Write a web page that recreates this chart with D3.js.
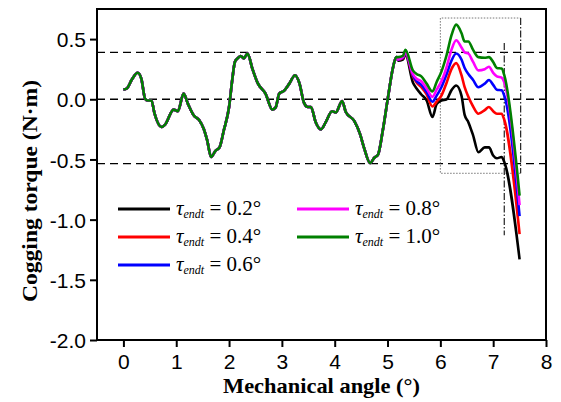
<!DOCTYPE html>
<html><head><meta charset="utf-8">
<script src="https://cdn.jsdelivr.net/npm/d3@7"></script>
<style>body{margin:0;background:#fff}</style>
</head><body>
<svg id="c" width="561" height="402"></svg>
<script>
// common part of all curves (identical for every tau_endt)
const commonX = [0,0.065,0.16,0.27,0.34,0.41,0.46,0.53,0.59,0.72,0.79,0.95,1.03,1.14,1.22,1.33,1.43,1.52,1.585,1.66,1.74,1.82,1.90,2.0,2.06,2.11,2.16,2.22,2.28,2.35,2.44,2.54,2.69,2.82,2.88,2.95,3.04,3.14,3.25,3.33,3.42,3.49,3.55,3.64,3.74,3.83,3.95,4.02,4.14,4.21,4.37,4.48,4.56,4.67,4.75,4.82,4.91,5.01,5.10,5.165];
const commonY = [0.08,0.09,0.164,0.22,0.17,0.005,-0.01,-0.01,-0.12,-0.23,-0.21,-0.086,-0.1,0.047,-0.036,-0.133,-0.17,-0.245,-0.34,-0.48,-0.43,-0.40,-0.26,-0.064,0.16,0.31,0.34,0.36,0.34,0.38,0.256,0.136,0.047,-0.086,-0.07,0.047,0.07,0.13,0.2,0.136,-0.03,-0.064,-0.064,-0.19,-0.25,-0.19,-0.1,-0.11,-0.014,-0.106,-0.18,-0.29,-0.41,-0.53,-0.486,-0.46,-0.26,0.02,0.256,0.35];
// diverging part
const tailX = [5.20,5.29,5.34,5.48,5.55,5.64,5.74,5.85,5.93,6.02,6.12,6.21,6.30,6.40,6.46,6.53,6.62,6.72,6.84,6.92,7.00,7.07,7.16,7.21,7.50];
const tail02 = [0.32,0.33,0.37,0.14,0.09,0.04,-0.01,-0.147,-0.04,-0.01,0.00,0.075,0.115,0.03,-0.13,-0.19,-0.30,-0.44,-0.40,-0.40,-0.467,-0.49,-0.48,-0.52,-1.33];
const tail04 = [0.33,0.34,0.38,0.19,0.14,0.10,0.04,-0.06,-0.02,0.03,0.14,0.25,0.30,0.20,0.10,0.02,-0.06,-0.12,-0.09,-0.064,-0.10,-0.12,-0.12,-0.17,-1.12];
const tail06 = [0.33,0.345,0.385,0.20,0.15,0.12,0.06,-0.02,0.03,0.10,0.21,0.32,0.38,0.33,0.26,0.21,0.16,0.10,0.13,0.16,0.12,0.08,0.075,0.03,-0.97];
const tail08 = [0.33,0.35,0.39,0.21,0.17,0.15,0.09,0.02,0.08,0.15,0.27,0.41,0.49,0.43,0.39,0.38,0.31,0.24,0.25,0.27,0.22,0.19,0.18,0.14,-0.88];
const tail10 = [0.35,0.36,0.41,0.24,0.21,0.19,0.13,0.065,0.144,0.23,0.37,0.53,0.62,0.55,0.48,0.48,0.41,0.35,0.345,0.35,0.31,0.26,0.255,0.20,-0.80];
const seriesNames = ["0.2°","0.4°","0.6°","0.8°","1.0°"];
const seriesColors = ["#000000","#ff0000","#0000ff","#ff00ff","#008000"];
const tails = [tail02,tail04,tail06,tail08,tail10];
const xTicks = [0,1,2,3,4,5,6,7,8];
const yTicks = [-2.0,-1.5,-1.0,-0.5,0.0,0.5];
const refLines = [0.39,0.0,-0.535];
const boxX = [6.0,7.52], boxY = [-0.615,0.675];
const markX = 7.21, markY = [-1.13,0.467];

const svg = d3.select("#c");
const L=97,R=546,T=9,B=340;
const x = d3.scaleLinear().domain([-0.5,8]).range([L,R]);
const y = d3.scaleLinear().domain([-2,0.75]).range([B,T]);

// reference dashed lines
svg.selectAll(".ref").data(refLines).enter().append("line")
  .attr("x1",L).attr("x2",R).attr("y1",d=>y(d)).attr("y2",d=>y(d))
  .attr("stroke","#000").attr("stroke-width",1.4).attr("stroke-dasharray","8,5");

// dotted box
svg.append("path")
  .attr("d",`M${x(boxX[1])},${y(boxY[0])}L${x(boxX[0])},${y(boxY[0])}L${x(boxX[0])},${y(boxY[1])}L${x(boxX[1])},${y(boxY[1])}`)
  .attr("fill","none").attr("stroke","#666").attr("stroke-width",0.9).attr("stroke-dasharray","1.5,1.5");
svg.append("line").attr("x1",x(boxX[1])).attr("x2",x(boxX[1])).attr("y1",y(boxY[1])).attr("y2",y(boxY[0]))
  .attr("stroke","#222").attr("stroke-width",1.2).attr("stroke-dasharray","7,2,1.5,2");
svg.append("line").attr("x1",x(markX)).attr("x2",x(markX)).attr("y1",y(markY[1])).attr("y2",y(markY[0]))
  .attr("stroke","#222").attr("stroke-width",1.2).attr("stroke-dasharray","7,2,1.5,2");

const line = d3.line().x(d=>x(d[0])).y(d=>y(d[1])).curve(d3.curveMonotoneX);
tails.forEach((t,i)=>{
  const pts = commonX.map((v,j)=>[v,commonY[j]]).concat(tailX.map((v,j)=>[v,t[j]]));
  svg.append("path").datum(pts).attr("d",line).attr("fill","none")
    .attr("stroke",seriesColors[i]).attr("stroke-width",2.6).attr("stroke-linejoin","round");
});

// frame
svg.append("rect").attr("x",L).attr("y",T).attr("width",R-L).attr("height",B-T)
  .attr("fill","none").attr("stroke","#000").attr("stroke-width",2);

// axes
const xa = svg.append("g").attr("transform",`translate(0,${B})`)
  .call(d3.axisBottom(x).tickValues(xTicks).tickSize(7).tickSizeOuter(0).tickFormat(d3.format("d")));
const ya = svg.append("g").attr("transform",`translate(${L},0)`)
  .call(d3.axisLeft(y).tickValues(yTicks).tickSize(7).tickSizeOuter(0).tickFormat(d=>d3.format(".1f")(d).replace("−","-")));
[xa,ya].forEach(a=>{
  a.select(".domain").remove();
  a.selectAll(".tick line").attr("stroke","#000").attr("stroke-width",2);
  a.selectAll(".tick text").attr("font-family","Liberation Sans, Arial, sans-serif").attr("font-size",21).attr("fill","#000");
});
xa.selectAll(".tick text").attr("dy","0.95em").attr("y",9);
ya.selectAll(".tick text").attr("x",-11).attr("dy","0.36em");

// axis titles
svg.append("text").attr("x",(L+R)/2).attr("y",393).attr("text-anchor","middle")
  .attr("font-family","Liberation Serif, Times New Roman, serif").attr("font-weight","bold").attr("font-size",21)
  .attr("textLength",197).attr("lengthAdjust","spacingAndGlyphs")
  .text("Mechanical angle (°)");
svg.append("text").attr("transform",`translate(37,191) rotate(-90)`).attr("text-anchor","middle")
  .attr("font-family","Liberation Serif, Times New Roman, serif").attr("font-weight","bold").attr("font-size",21)
  .attr("textLength",222).attr("lengthAdjust","spacingAndGlyphs")
  .text("Cogging torque (N·m)");

// legend
const legPos = [[118,209],[118,237],[118,265],[297,209],[297,237]];
seriesNames.forEach((n,i)=>{
  const [lx,ly] = legPos[i];
  svg.append("line").attr("x1",lx).attr("x2",lx+52).attr("y1",ly).attr("y2",ly)
    .attr("stroke",seriesColors[i]).attr("stroke-width",3);
  const t = svg.append("text").attr("x",lx+58).attr("y",ly+6)
    .attr("font-family","Liberation Serif, Times New Roman, serif").attr("font-size",21);
  t.append("tspan").attr("font-style","italic").text("τ");
  t.append("tspan").attr("font-style","italic").attr("font-size",12).attr("dy",3).text("endt");
  t.append("tspan").attr("dy",-3).text(" = " + n);
});
</script>
</body></html>
